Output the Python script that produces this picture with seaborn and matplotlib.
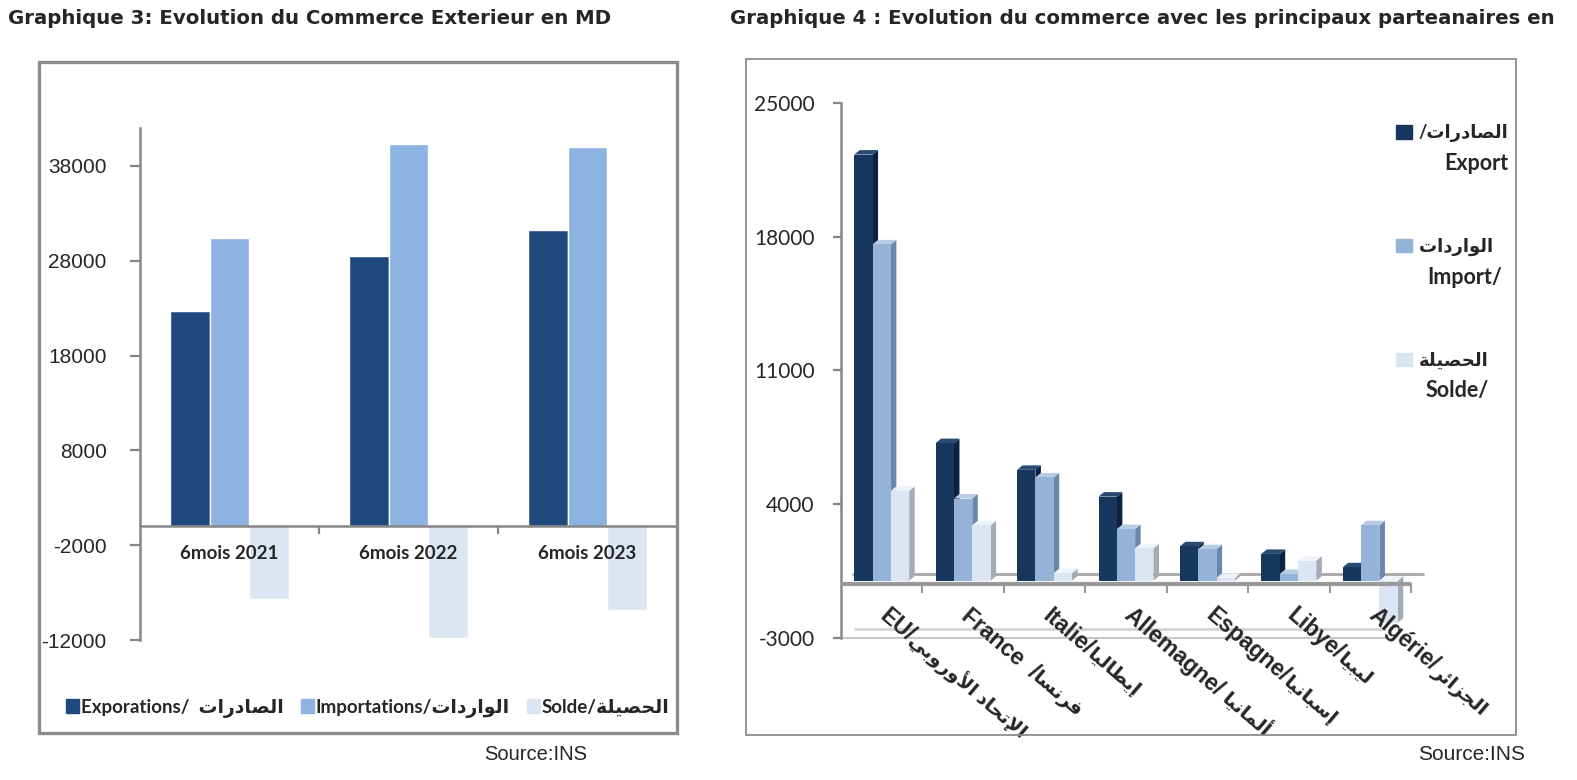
import numpy as np
import pandas as pd
import matplotlib
matplotlib.use("Agg")
import matplotlib.pyplot as plt
import seaborn as sns
from matplotlib.patches import Polygon, Rectangle
from matplotlib.transforms import offset_copy
from matplotlib.font_manager import FontProperties

# ---------------- data ----------------
periods = ["6mois 2021", "6mois 2022", "6mois 2023"]
exports_md = [22700, 28500, 31200]
imports_md = [30400, 40300, 40000]
solde_md = [-7700, -11800, -8800]

partners = ["EU", "France", "Italie", "Allemagne", "Espagne", "Libye", "Algérie"]
partners_sep = ["/", "  /", "/", "/ ", "/", "/", "/"]
partners_ar = ["الإتحاد الأوروبي", "فرنسا", "إيطاليا", "ألمانيا", "إسبانيا", "ليبيا", "الجزائر"]
partner_export = [22300, 7200, 5800, 4400, 1800, 1400, 700]
partner_import = [17600, 4300, 5400, 2700, 1650, 350, 2900]
partner_solde = [4700, 2900, 400, 1700, 150, 1050, -2200]

left_ticks = [-12000, -2000, 8000, 18000, 28000, 38000]
right_ticks = [-3000, 4000, 11000, 18000, 25000]

# ---------------- minimal Arabic shaping (presentation forms, visual order) ----------------
AR_FORMS = {
    "\u0627": ("\uFE8D", "\uFE8E", None, None),
    "\u0623": ("\uFE83", "\uFE84", None, None),
    "\u0625": ("\uFE87", "\uFE88", None, None),
    "\u0628": ("\uFE8F", "\uFE90", "\uFE91", "\uFE92"),
    "\u0629": ("\uFE93", "\uFE94", None, None),
    "\u062A": ("\uFE95", "\uFE96", "\uFE97", "\uFE98"),
    "\u062C": ("\uFE9D", "\uFE9E", "\uFE9F", "\uFEA0"),
    "\u062D": ("\uFEA1", "\uFEA2", "\uFEA3", "\uFEA4"),
    "\u062F": ("\uFEA9", "\uFEAA", None, None),
    "\u0631": ("\uFEAD", "\uFEAE", None, None),
    "\u0632": ("\uFEAF", "\uFEB0", None, None),
    "\u0633": ("\uFEB1", "\uFEB2", "\uFEB3", "\uFEB4"),
    "\u0635": ("\uFEB9", "\uFEBA", "\uFEBB", "\uFEBC"),
    "\u0637": ("\uFEC1", "\uFEC2", "\uFEC3", "\uFEC4"),
    "\u0641": ("\uFED1", "\uFED2", "\uFED3", "\uFED4"),
    "\u0644": ("\uFEDD", "\uFEDE", "\uFEDF", "\uFEE0"),
    "\u0645": ("\uFEE1", "\uFEE2", "\uFEE3", "\uFEE4"),
    "\u0646": ("\uFEE5", "\uFEE6", "\uFEE7", "\uFEE8"),
    "\u0648": ("\uFEED", "\uFEEE", None, None),
    "\u064A": ("\uFEF1", "\uFEF2", "\uFEF3", "\uFEF4"),
    "\u0626": ("\uFE89", "\uFE8A", "\uFE8B", "\uFE8C"),
}
LAM_ALEF = {"\u0627": ("\uFEFB", "\uFEFC"), "\u0623": ("\uFEF7", "\uFEF8"),
            "\u0625": ("\uFEF9", "\uFEFA")}


def ar(text):
    toks, i = [], 0
    while i < len(text):
        c = text[i]
        if c == "\u0644" and i + 1 < len(text) and text[i + 1] in LAM_ALEF:
            toks.append(("LA", text[i + 1]))
            i += 2
        else:
            toks.append(("C", c))
            i += 1

    def forms(t):
        if t[0] == "LA":
            iso, fin = LAM_ALEF[t[1]]
            return (iso, fin, None, None)
        return AR_FORMS.get(t[1])

    out = []
    for k, t in enumerate(toks):
        f = forms(t)
        if f is None:
            out.append(t[1])
            continue
        prev = forms(toks[k - 1]) if k > 0 else None
        nxt = forms(toks[k + 1]) if k + 1 < len(toks) else None
        jp = prev is not None and prev[2] is not None
        jn = f[2] is not None and nxt is not None
        if jp and jn:
            g = f[3]
        elif jp:
            g = f[1]
        elif jn:
            g = f[2]
        else:
            g = f[0]
        out.append(g)
    return "".join(reversed(out))


# ---------------- styling ----------------
sns.set_theme(style="white")
plt.rcParams["font.family"] = ["Liberation Sans", "DejaVu Sans"]
MIX = ["Lato", "DejaVu Sans"]
GRAY = "#868686"

W, H = 1577, 780
fig = plt.figure(figsize=(W / 100, H / 100), dpi=100)

# frames
fig.add_artist(Rectangle((39 / W, 1 - 733 / H), (677 - 39) / W, (733 - 62) / H,
                         transform=fig.transFigure, fill=False, ec="#8c8c8c", lw=2.4))
fig.add_artist(Rectangle((746 / W, 1 - 735 / H), (1516 - 746) / W, (735 - 59) / H,
                         transform=fig.transFigure, fill=False, ec="#8c8c8c", lw=1.3))

# titles and sources
fig.text(8 / W, 1 - 18 / H, "Graphique 3: Evolution du Commerce Exterieur en MD",
         fontsize=14.2, fontweight="bold", family="DejaVu Sans", va="center", ha="left")
fig.text(730 / W, 1 - 18 / H,
         "Graphique 4 : Evolution du commerce avec les principaux parteanaires en",
         fontsize=14.2, fontweight="bold", family="DejaVu Sans", va="center", ha="left")
fig.text(484 / W, 1 - 755 / H, "Source:INS", fontsize=14.5, va="center", ha="left")
fig.text(1418 / W, 1 - 755 / H, "Source:INS", fontsize=15, va="center", ha="left")

# ================= Left chart =================
c_exp, c_imp, c_sol = "#1F497D", "#8DB3E2", "#DCE6F2"
ax1 = fig.add_axes([140 / W, 1 - 640 / H, 537 / W, 512 / H])
df1 = pd.DataFrame({
    "period": periods * 3,
    "series": ["exp"] * 3 + ["imp"] * 3 + ["sol"] * 3,
    "value": exports_md + imports_md + solde_md,
})
sns.barplot(data=df1, x="period", y="value", hue="series",
            hue_order=["exp", "imp", "sol"], palette=[c_exp, c_imp, c_sol],
            width=0.665, saturation=1, errorbar=None, legend=False, ax=ax1)
ax1.set_ylim(-12000, 42000)
ax1.set_xlim(-0.5, len(periods) - 0.5)
ax1.set_xlabel("")
ax1.set_ylabel("")
for s in ["top", "right"]:
    ax1.spines[s].set_visible(False)
ax1.spines["left"].set_color(GRAY)
ax1.spines["left"].set_linewidth(1.8)
ax1.spines["bottom"].set_position(("data", 0))
ax1.spines["bottom"].set_color(GRAY)
ax1.spines["bottom"].set_linewidth(1.8)
ax1.spines["bottom"].set_zorder(6)
ax1.set_yticks(left_ticks)
ax1.set_yticklabels([str(v) for v in left_ticks], fontsize=15)
ax1.tick_params(axis="y", direction="out", length=7, width=1.6, color=GRAY, pad=17, left=True)
ax1.set_xticks(np.arange(len(periods) - 1) + 0.5)
ax1.set_xticklabels([])
ax1.tick_params(axis="x", which="major", direction="out", length=6, width=1.6,
                color=GRAY, bottom=True)
tr_lab = offset_copy(ax1.transData, fig=fig, x=0, y=-27, units="dots")
for i, p in enumerate(periods):
    ax1.text(i, 0, p, transform=tr_lab, ha="center", va="center", zorder=10,
             fontproperties=FontProperties(family=MIX, weight="bold", size=13.5))

h1 = [Rectangle((0, 0), 1, 1, color=c) for c in (c_exp, c_imp, c_sol)]
l1 = ["Exporations/  " + ar("الصادرات"), "Importations/" + ar("الواردات"),
      "Solde/" + ar("الحصيلة")]
fig.legend(h1, l1, loc="center", bbox_to_anchor=(368 / W, 1 - 708 / H), ncol=3,
           frameon=False, handlelength=0.7, handleheight=0.7, handletextpad=0.1,
           columnspacing=0.9, prop=FontProperties(family=MIX, weight="bold", size=13.5))

# ================= Right chart =================
front = ["#17375E", "#95B3D7", "#DCE6F2"]
side = ["#0D2240", "#6A86AA", "#A3ABB6"]
top = ["#2B4A72", "#B7CBE4", "#EEF3F9"]
ax2 = fig.add_axes([841 / W, 1 - 638 / H, 570 / W, 535 / H])
df2 = pd.DataFrame({
    "partner": partners * 3,
    "series": ["exp"] * 7 + ["imp"] * 7 + ["sol"] * 7,
    "value": partner_export + partner_import + partner_solde,
})
sns.barplot(data=df2, x="partner", y="value", hue="series",
            hue_order=["exp", "imp", "sol"], palette=front,
            width=0.675, saturation=1, errorbar=None, legend=False, ax=ax2)
ax2.set_ylim(-3000, 25000)
ax2.set_xlim(-0.5, len(partners) - 0.5)
ax2.set_xlabel("")
ax2.set_ylabel("")
for s in ["top", "right", "bottom"]:
    ax2.spines[s].set_visible(False)
ax2.spines["left"].set_color(GRAY)
ax2.spines["left"].set_linewidth(1.8)
ax2.set_yticks(right_ticks)
ax2.set_yticklabels([str(v) for v in right_ticks],
                    fontproperties=FontProperties(family=MIX, size=15))
ax2.tick_params(axis="y", direction="out", length=6, width=1.6, color=GRAY, pad=13, left=True)
ax2.set_xticks([])

# pixel -> data conversion for 3D depth
fig.canvas.draw()
p0 = ax2.transData.transform((0, 0))
p1 = ax2.transData.transform((1, 1000))
px_x = p1[0] - p0[0]
px_y = (p1[1] - p0[1]) / 1000.0
dx, dy = 5.5 / px_x, 4.5 / px_y

bars = sorted([p for p in ax2.patches if isinstance(p, Rectangle)], key=lambda p: p.get_x())
series_idx = {matplotlib.colors.to_hex(fc): j for j, fc in enumerate(front)}
for k, p in enumerate(bars):
    j = series_idx.get(matplotlib.colors.to_hex(p.get_facecolor()), 0)
    x0, w, y, hgt = p.get_x(), p.get_width(), p.get_y(), p.get_height()
    yb, yt = min(y, y + hgt), max(y, y + hgt)
    x1 = x0 + w
    z = 2 + k * 0.01
    ax2.add_patch(Polygon([(x1, yb), (x1 + dx, yb + dy), (x1 + dx, yt + dy), (x1, yt)],
                          closed=True, fc=side[j], ec="none", zorder=z))
    ax2.add_patch(Polygon([(x0, yt), (x0 + dx, yt + dy), (x1 + dx, yt + dy), (x1, yt)],
                          closed=True, fc=top[j], ec="none", zorder=z))
    p.set_zorder(z + 0.005)
    p.set_edgecolor("none")

# floor / axis lines
n = len(partners)
bounds = np.arange(n + 1) - 0.5
tr_back0 = offset_copy(ax2.transData, fig=fig, x=12, y=7, units="dots")
ax2.plot([bounds[0], bounds[-1]], [0, 0], color="#a6a6a6", lw=2, transform=tr_back0,
         zorder=1, clip_on=False)
tr_front0 = offset_copy(ax2.transData, fig=fig, x=0, y=-3, units="dots")
ax2.plot([bounds[0], bounds[-1]], [0, 0], color="#9a9a9a", lw=3, transform=tr_front0,
         zorder=5, clip_on=False, solid_capstyle="butt")
tr_ticks = offset_copy(ax2.transData, fig=fig, x=0, y=-7, units="dots")
ax2.plot(bounds[1:], [0] * n, ls="none", marker="|", ms=7, mew=1.5, color="#9a9a9a",
         transform=tr_ticks, zorder=5, clip_on=False)
ax2.plot([bounds[0], bounds[-1] - 0.3], [-3000, -3000], color="#c8c8c8", lw=1.5,
         zorder=1, clip_on=False)
tr_backf = offset_copy(ax2.transData, fig=fig, x=14, y=9, units="dots")
ax2.plot([bounds[0], bounds[-1] - 0.5], [-3000, -3000], color="#d4d4d4", lw=2,
         transform=tr_backf, zorder=1, clip_on=False)

# rotated category labels (Latin bold + Arabic)
ang = 40.5
rend = fig.canvas.get_renderer()
fp_lat = FontProperties(family=["Liberation Sans", "DejaVu Sans"], weight="bold", size=16.5)
fp_ar = FontProperties(family=MIX, weight="bold", size=14)
for i, (lat, sep, arb) in enumerate(zip(partners, partners_sep, partners_ar)):
    s_lat = lat + sep
    tmp = fig.text(0, 0, s_lat, fontproperties=fp_lat)
    wl = tmp.get_window_extent(rend).width
    tmp.remove()
    bx, by = -3, -37
    tr = offset_copy(ax2.transData, fig=fig, x=bx, y=by, units="dots")
    ax2.text(i, 0, s_lat, transform=tr, rotation=-ang, rotation_mode="anchor",
             ha="left", va="baseline", fontproperties=fp_lat, clip_on=False, zorder=10)
    ox = bx + wl * np.cos(np.radians(ang))
    oy = by - wl * np.sin(np.radians(ang))
    tr2 = offset_copy(ax2.transData, fig=fig, x=ox, y=oy, units="dots")
    ax2.text(i, 0, ar(arb), transform=tr2, rotation=-ang, rotation_mode="anchor",
             ha="left", va="baseline", fontproperties=fp_ar, clip_on=False, zorder=10)

# legend (first line with swatch, second line below, right aligned)
fp_leg = FontProperties(family=MIX, weight="bold", size=13)
fp_leg2 = FontProperties(family=MIX, weight="bold", size=15.5)
h2 = [Rectangle((0, 0), 1, 1, color=c) for c in front]
l2 = ["/" + ar("الصادرات"), ar("الواردات") + "  ", ar("الحصيلة")]
second = ["Export", "Import/", "Solde/"]
leg2 = fig.legend(h2, l2, loc="upper left", bbox_to_anchor=(1380 / W, 1 - 108 / H),
                  frameon=False, handlelength=0.85, handleheight=0.75, handletextpad=0.4,
                  labelspacing=5.3, prop=fp_leg)
fig.canvas.draw()
for t, s2 in zip(leg2.get_texts(), second):
    bb = t.get_window_extent(rend)
    fig.text(bb.x1 / W, (bb.y0 + bb.y1) / 2 / H - 30 / H, s2, ha="right", va="center",
             fontproperties=fp_leg2)

fig.savefig("out.png", dpi=100)
